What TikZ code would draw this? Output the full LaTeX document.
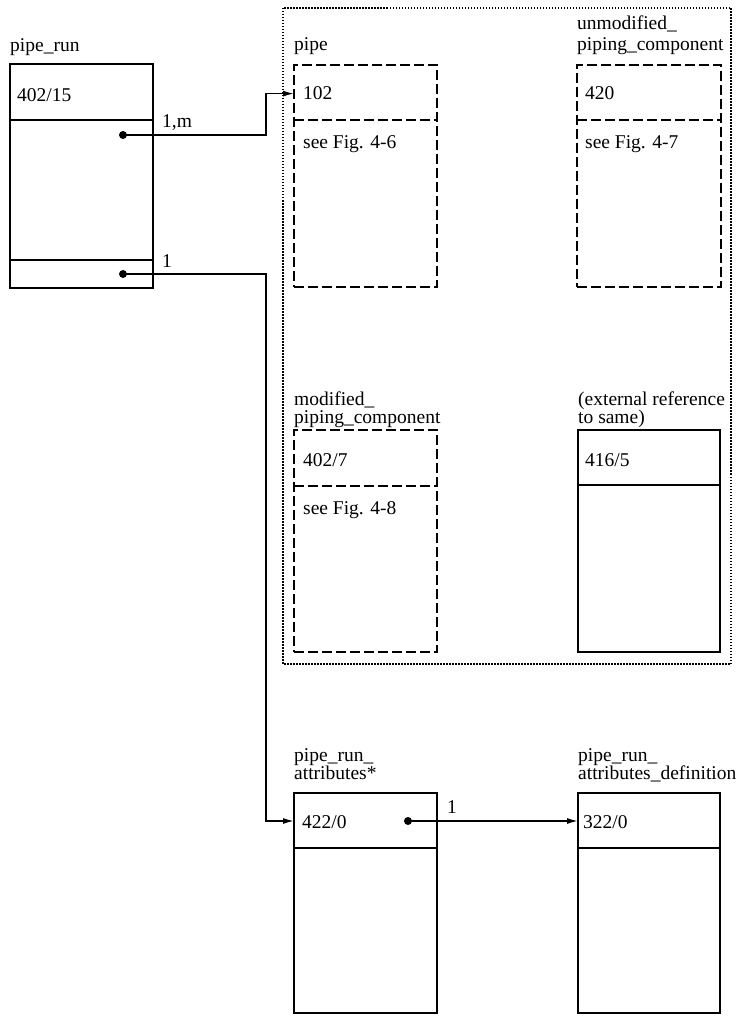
\documentclass[tikz,border=0pt]{standalone}
\usepackage{fontspec}
\setmainfont{Liberation Serif}
\usepackage{tikz}
\usetikzlibrary{arrows.meta,positioning,calc}

\begin{document}
\begin{tikzpicture}[x=1pt,y=-1pt,font=\fontsize{19.5}{18}\selectfont,
  entite/.style={rectangle,draw,line width=1.4pt,minimum width=143pt,
                 minimum height=222pt,inner sep=0pt,outer sep=0pt,anchor=north west},
  entiteRef/.style={entite,dash pattern=on 10pt off 4pt,line width=1.6pt},
  sep/.style={line width=1.4pt},
  etiq/.style={anchor=base west,align=left,inner sep=0pt},
  texte/.style={anchor=base west,inner sep=0pt},
  point/.style={circle,fill,inner sep=0pt,minimum size=8pt},
  lien/.style={-{Latex[length=11pt,width=6pt]},line width=1.5pt},
  groupe/.style={draw,line width=1.6pt,dash pattern=on 1.5pt off 1.5pt}]

  \useasboundingbox (0,0) rectangle (741,1016);

  % groupe des references (pointilles)
  \draw[groupe] (283,8) rectangle (731,664);

  % entites
  \node[entite,minimum height=224pt] (pipeRun) at (10,64) {};
  \node[entiteRef] (pipe) at (294,65) {};
  \node[entiteRef,minimum width=144pt] (unmodComp) at (577,65) {};
  \node[entiteRef] (modComp) at (294,430) {};
  \node[entite,minimum width=142pt] (extRef) at (578,430) {};
  \node[entite,minimum height=220pt] (runAttr) at (294,793) {};
  \node[entite,minimum width=142pt,minimum height=220pt] (runAttrDef) at (578,793) {};

  % separations
  \draw[sep] ($(pipeRun.north west)+(0,56)$) -- ($(pipeRun.north east)+(0,56)$);
  \draw[sep] ($(pipeRun.north west)+(0,196)$) -- ($(pipeRun.north east)+(0,196)$);
  \draw[entiteRef] ($(pipe.north west)+(0,55)$) -- ($(pipe.north east)+(0,55)$);
  \draw[entiteRef] ($(unmodComp.north west)+(0,55)$) -- ($(unmodComp.north east)+(0,55)$);
  \draw[entiteRef] ($(modComp.north west)+(0,56)$) -- ($(modComp.north east)+(0,56)$);
  \draw[sep] ($(extRef.north west)+(0,55)$) -- ($(extRef.north east)+(0,55)$);
  \draw[sep] ($(runAttr.north west)+(0,55)$) -- ($(runAttr.north east)+(0,55)$);
  \draw[sep] ($(runAttrDef.north west)+(0,55)$) -- ($(runAttrDef.north east)+(0,55)$);

  % noms
  \node[etiq] (lblPipeRun) at (10,52) {pipe\_run};
  \node[etiq] (lblPipe) at (294,51) {pipe};
  \node[etiq] (lblUnmod) at (577,51) {unmodified\_\\[3pt]piping\_component};
  \node[etiq] (lblMod) at (294,423) {modified\_\\piping\_component};
  \node[etiq] (lblExt) at (578,423) {(external reference\\to same)};
  \node[etiq] (lblRunAttr) at (294,779) {pipe\_run\_\\attributes*};
  \node[etiq] (lblRunAttrDef) at (578,779) {pipe\_run\_\\attributes\_definition};

  % contenus
  \node[texte] (idPipeRun) at (17,102) {402/15};
  \node[texte] (idPipe) at (303,100) {102};
  \node[texte] (voirPipe) at (303,149) {see Fig. 4-6};
  \node[texte] (idUnmod) at (585,100) {420};
  \node[texte] (voirUnmod) at (585,149) {see Fig. 4-7};
  \node[texte] (idMod) at (303,466) {402/7};
  \node[texte] (voirMod) at (303,514) {see Fig. 4-8};
  \node[texte] (idExt) at (585,466) {416/5};
  \node[texte] (idRunAttr) at (302,828) {422/0};
  \node[texte] (idRunAttrDef) at (583,828) {322/0};

  % liens
  \coordinate (coude) at (266,0);
  \node[point] (dotA) at (123,135) {};
  \node[point] (dotB) at (123,274) {};
  \node[point] (dotC) at (408,821) {};

  \draw[lien] (dotA.center) -- (dotA -| coude) |- (pipe.west |- idPipe);
  \draw[lien] (dotB.center) -- (dotB -| coude) |- (runAttr.west |- dotC);
  \draw[lien] (dotC.center) -- (runAttrDef.west |- dotC);

  \node[texte] (cardA) at (162,128) {1,m};
  \node[texte] (cardB) at (162,267) {1};
  \node[texte] (cardC) at (447,813) {1};
\end{tikzpicture}
\end{document}
